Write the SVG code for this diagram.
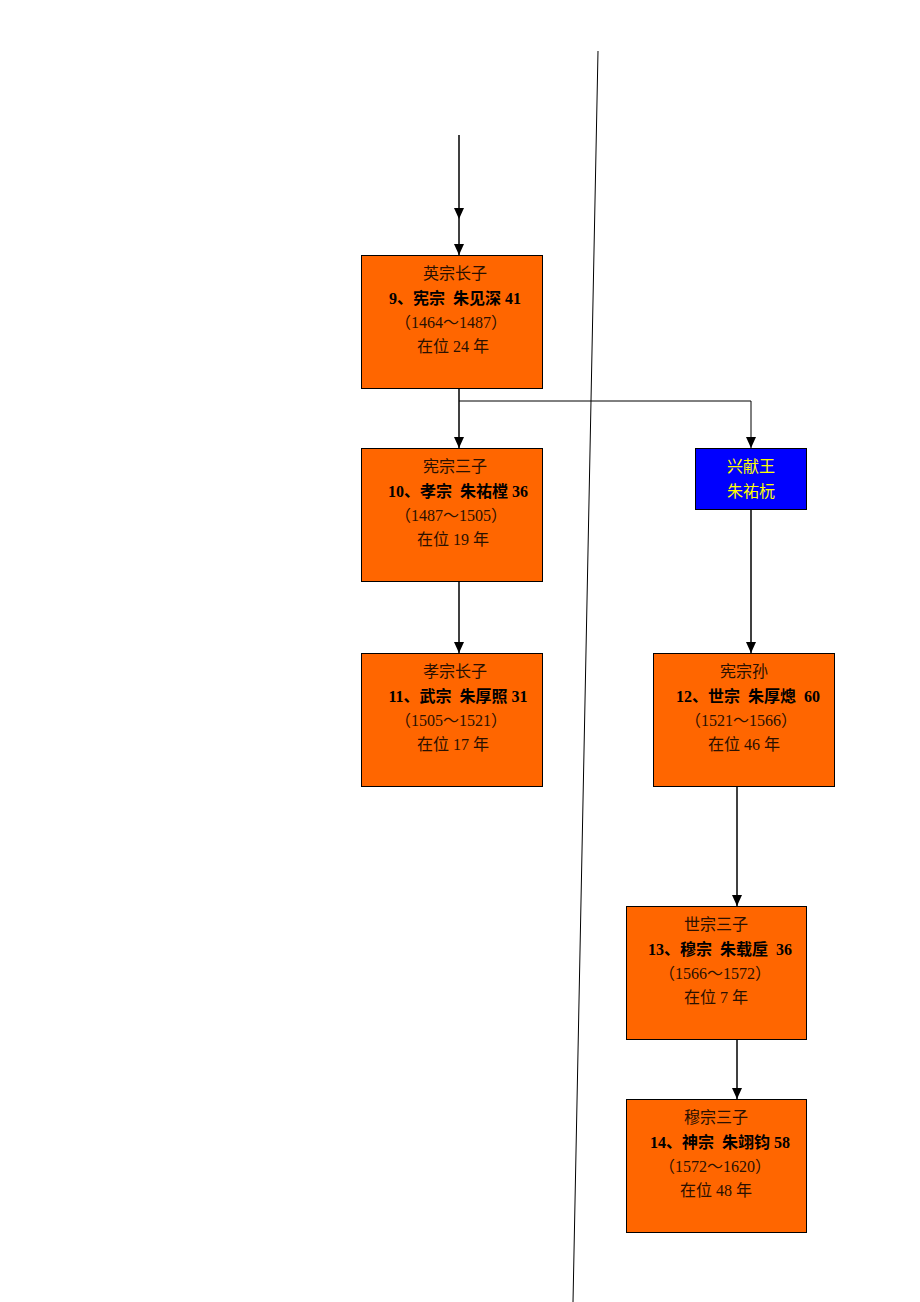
<svg xmlns="http://www.w3.org/2000/svg" width="920" height="1302" viewBox="0 0 920 1302">
<style>
.box{fill:#FF6600;stroke:#000;stroke-width:1}
.blue{fill:#0000FF;stroke:#000;stroke-width:1}
text{font-family:"Liberation Serif","Noto Sans CJK SC",serif;font-size:16px;text-anchor:middle}
.n{fill:#2a1000}
.b{fill:#000;font-weight:bold}
.y{fill:#FFFF00}
.ln{stroke:#000;stroke-width:1.5;fill:none}
.thin{stroke:#000;stroke-width:1;fill:none}
</style>
<defs>
<marker id="ahd" markerWidth="10" markerHeight="11" refX="5" refY="11" orient="0" markerUnits="userSpaceOnUse" viewBox="0 0 10 11">
<path d="M0,0 L10,0 L5,11 Z" fill="#000"/>
</marker>
</defs>
<rect width="920" height="1302" fill="#fff"/>
<line x1="598" y1="51" x2="573" y2="1302" class="thin"/>
<g id="connectors">
<line x1="459" y1="135" x2="459" y2="219" class="ln" marker-end="url(#ahd)"/>
<line x1="459" y1="219" x2="459" y2="255" class="ln" marker-end="url(#ahd)"/>
<line x1="459" y1="388" x2="459" y2="448" class="ln" marker-end="url(#ahd)"/>
<polyline points="459,401 751,401 751,448" class="thin" marker-end="url(#ahd)"/>
<line x1="459" y1="581" x2="459" y2="653" class="ln" marker-end="url(#ahd)"/>
<line x1="751" y1="509" x2="751" y2="653" class="ln" marker-end="url(#ahd)"/>
<line x1="737" y1="786" x2="737" y2="906" class="ln" marker-end="url(#ahd)"/>
<line x1="737" y1="1039" x2="737" y2="1099" class="ln" marker-end="url(#ahd)"/>
</g>
<g id="n9">
<rect x="361.5" y="255.5" width="181" height="133" class="box"/>
<text x="455" y="279" class="n">英宗长子</text>
<text x="455" y="304" class="b" xml:space="preserve">9、宪宗  朱见深 41</text>
<text x="451" y="328" class="n">（1464～1487）</text>
<text x="453" y="352" class="n">在位 24 年</text>
</g>
<g id="n10">
<rect x="361.5" y="448.5" width="181" height="133" class="box"/>
<text x="455" y="472" class="n">宪宗三子</text>
<text x="458" y="497" class="b" xml:space="preserve">10、孝宗  朱祐樘 36</text>
<text x="451" y="521" class="n">（1487～1505）</text>
<text x="453" y="545" class="n">在位 19 年</text>
</g>
<g id="n11">
<rect x="361.5" y="653.5" width="181" height="133" class="box"/>
<text x="455" y="677" class="n">孝宗长子</text>
<text x="458" y="702" class="b" xml:space="preserve">11、武宗  朱厚照 31</text>
<text x="451" y="726" class="n">（1505～1521）</text>
<text x="453" y="750" class="n">在位 17 年</text>
</g>
<g id="nxing">
<rect x="695.5" y="448.5" width="111" height="61" class="blue"/>
<text x="751" y="472" class="y">兴献王</text>
<text x="751" y="497" class="y">朱祐杬</text>
</g>
<g id="n12">
<rect x="653.5" y="653.5" width="181" height="133" class="box"/>
<text x="744" y="677" class="n">宪宗孙</text>
<text x="748" y="702" class="b" xml:space="preserve">12、世宗  朱厚熜  60</text>
<text x="741" y="726" class="n">（1521～1566）</text>
<text x="744" y="750" class="n">在位 46 年</text>
</g>
<g id="n13">
<rect x="626.5" y="906.5" width="180" height="133" class="box"/>
<text x="716" y="930" class="n">世宗三子</text>
<text x="720" y="955" class="b" xml:space="preserve">13、穆宗  朱载垕  36</text>
<text x="715" y="979" class="n">（1566～1572）</text>
<text x="716" y="1003" class="n">在位 7 年</text>
</g>
<g id="n14">
<rect x="626.5" y="1099.5" width="180" height="133" class="box"/>
<text x="716" y="1123" class="n">穆宗三子</text>
<text x="720" y="1148" class="b" xml:space="preserve">14、神宗  朱翊钧 58</text>
<text x="715" y="1172" class="n">（1572～1620）</text>
<text x="716" y="1196" class="n">在位 48 年</text>
</g>
</svg>
